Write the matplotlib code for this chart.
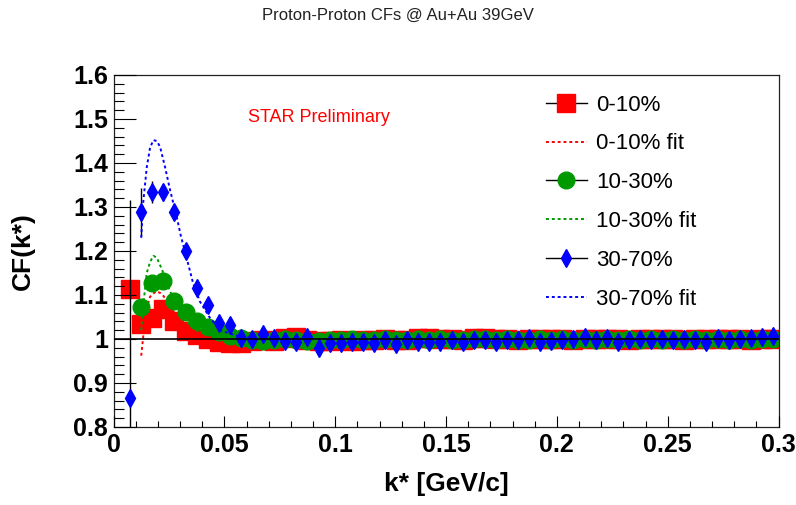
import numpy as np
import matplotlib
matplotlib.use('Agg')
import matplotlib.pyplot as plt
from matplotlib.lines import Line2D
from matplotlib.ticker import MultipleLocator

plt.rcParams['font.family'] = ['Liberation Sans', 'DejaVu Sans']

# bin centres (GeV/c)
k = [0.0075, 0.0125, 0.0175, 0.0225, 0.0275, 0.0325, 0.0375, 0.0425, 0.0475, 0.0525,
     0.0575, 0.0625, 0.0675, 0.0725, 0.0775, 0.0825, 0.0875, 0.0925, 0.0975, 0.1025,
     0.1075, 0.1125, 0.1175, 0.1225, 0.1275, 0.1325, 0.1375, 0.1425, 0.1475, 0.1525,
     0.1575, 0.1625, 0.1675, 0.1725, 0.1775, 0.1825, 0.1875, 0.1925, 0.1975, 0.2025,
     0.2075, 0.2125, 0.2175, 0.2225, 0.2275, 0.2325, 0.2375, 0.2425, 0.2475, 0.2525,
     0.2575, 0.2625, 0.2675, 0.2725, 0.2775, 0.2825, 0.2875, 0.2925, 0.2975]

cf_0_10 = [1.113, 1.034, 1.047, 1.068, 1.041, 1.018, 1.010, 1.000, 0.993, 0.990,
           0.990, 0.995, 0.997, 0.996, 1.002, 1.004, 0.998, 0.996, 0.995, 0.997,
           0.996, 0.998, 0.997, 0.999, 0.997, 0.998, 1.002, 1.003, 1.001, 0.999,
           0.998, 1.002, 1.002, 1.000, 0.999, 0.998, 1.000, 0.999, 1.001, 1.000,
           0.998, 0.999, 1.000, 0.999, 1.000, 0.998, 0.999, 1.000, 0.999, 1.001,
           0.998, 0.999, 1.000, 0.999, 1.000, 0.999, 0.998, 1.000, 1.000]

cf_10_30 = [np.nan, 1.073, 1.127, 1.132, 1.087, 1.062, 1.042, 1.027, 1.016, 1.007,
            1.002, 0.997, 0.996, 0.998, 0.999, 0.997, 0.996, 0.995, 0.997, 0.998,
            0.999, 0.997, 0.998, 0.999, 0.997, 0.998, 0.999, 0.998, 0.999, 0.997,
            0.998, 1.000, 0.999, 0.998, 0.999, 0.997, 0.998, 0.999, 0.998, 0.999,
            0.998, 0.999, 0.997, 0.999, 0.998, 0.999, 0.998, 0.999, 0.998, 0.999,
            0.998, 0.999, 0.998, 0.999, 0.998, 0.999, 0.998, 0.999, 0.999]

cf_30_70 = [0.865, 1.289, 1.333, 1.333, 1.289, 1.201, 1.115, 1.077, 1.036, 1.032,
            1.002, 1.000, 1.011, 1.002, 0.996, 0.994, 1.005, 0.980, 0.991, 0.991,
            0.994, 0.994, 0.990, 0.998, 0.988, 0.998, 0.994, 0.994, 0.994, 0.998,
            0.994, 0.998, 0.998, 0.994, 0.998, 0.998, 1.003, 0.993, 0.996, 0.998,
            1.000, 1.004, 0.998, 1.003, 0.994, 0.998, 1.000, 0.998, 1.000, 0.998,
            1.000, 0.998, 0.993, 1.003, 0.998, 1.000, 1.003, 1.005, 1.006]
# stat. errors of the first 30-70% bins (others hidden under markers)
err_30_70 = [0.45, 0.055, 0.025, 0.02, 0.015, 0.012, 0.01, 0.01, 0.008]

# fit curves
fit_k_0_10 = [0.0125, 0.0135, 0.015, 0.0165, 0.019, 0.021, 0.0225, 0.025, 0.028, 0.032, 0.037, 0.045, 0.06, 0.3]
fit_0_10 = [0.962, 1.01, 1.07, 1.096, 1.108, 1.105, 1.098, 1.08, 1.055, 1.03, 1.012, 1.002, 0.998, 1.0]
fit_k_10_30 = [0.0125, 0.0135, 0.015, 0.0165, 0.018, 0.0195, 0.021, 0.0225, 0.025, 0.028, 0.032, 0.037, 0.045, 0.06, 0.3]
fit_10_30 = [1.02, 1.08, 1.15, 1.175, 1.189, 1.185, 1.168, 1.15, 1.115, 1.08, 1.045, 1.02, 1.006, 1.0, 1.0]
fit_k_30_70 = [0.0125, 0.0134, 0.015, 0.0165, 0.018, 0.0195, 0.021, 0.0232, 0.0255, 0.0285, 0.0303,
               0.0332, 0.0359, 0.039, 0.0435, 0.048, 0.057, 0.07, 0.3]
fit_30_70 = [1.23, 1.31, 1.39, 1.435, 1.452, 1.45, 1.437, 1.392, 1.339, 1.278, 1.236,
             1.18, 1.127, 1.085, 1.048, 1.02, 1.005, 1.0, 1.0]

red = '#ff0000'
green = '#009a00'
blue = '#0000ff'

fig = plt.figure(figsize=(7.96, 5.05), dpi=100)
ax = fig.add_axes([113.5 / 796, 1 - 427 / 505, 665 / 796, 352 / 505])

dots = (0, (1.5, 1.5))
ax.plot(k, cf_0_10, ls='none', marker='s', ms=13, mfc=red, mec=red, zorder=2)
ax.plot(fit_k_0_10, fit_0_10, color=red, ls=dots, lw=1.4, zorder=2)
ax.plot(k, cf_10_30, ls='none', marker='o', ms=12, mfc=green, mec=green, zorder=2)
ax.plot(fit_k_10_30, fit_10_30, color=green, ls=dots, lw=1.4, zorder=2)
n = len(err_30_70)
ax.errorbar(k[:n], cf_30_70[:n], yerr=err_30_70, fmt='none', ecolor='black', elinewidth=1, zorder=2)
ax.plot(k, cf_30_70, ls='none', marker='d', ms=9, mfc=blue, mec=blue, zorder=2)
ax.plot(fit_k_30_70, fit_30_70, color=blue, ls=dots, lw=1.4, zorder=2)

ax.axhline(1.0, color='black', lw=1.2, zorder=3)

ax.set_xlim(0, 0.3)
ax.set_ylim(0.8, 1.6)
ax.set_axisbelow(False)
ax.xaxis.set_major_locator(MultipleLocator(0.05))
ax.xaxis.set_minor_locator(MultipleLocator(0.01))
ax.yaxis.set_major_locator(MultipleLocator(0.1))
ax.yaxis.set_minor_locator(MultipleLocator(0.02))
ax.set_xticks([0, 0.05, 0.1, 0.15, 0.2, 0.25, 0.3], ['0', '0.05', '0.1', '0.15', '0.2', '0.25', '0.3'])
ax.set_yticks([0.8, 0.9, 1.0, 1.1, 1.2, 1.3, 1.4, 1.5, 1.6], ['0.8', '0.9', '1', '1.1', '1.2', '1.3', '1.4', '1.5', '1.6'])
ax.tick_params(axis='x', which='major', direction='in', length=8, width=0.8, pad=4, labelsize=18)
ax.tick_params(axis='x', which='minor', direction='in', length=4, width=0.8)
ax.tick_params(axis='y', which='major', direction='in', length=16, width=0.8, pad=4, labelsize=18)
ax.tick_params(axis='y', which='minor', direction='in', length=7.5, width=0.8)
for lab in ax.get_xticklabels() + ax.get_yticklabels():
    lab.set_fontweight('bold')
for sp in ax.spines.values():
    sp.set_linewidth(0.9)
    sp.set_color('#222222')

ax.set_xlabel('k* [GeV/c]', fontsize=19, fontweight='bold')
ax.set_ylabel('CF(k*)', fontsize=19, fontweight='bold')
ax.xaxis.set_label_coords(0.5, -0.162)
ax.xaxis.label.set_verticalalignment('center')
ax.yaxis.set_label_coords(-0.137, 0.5)
ax.yaxis.label.set_verticalalignment('center')

ax.text(0.0607, 1.5045, 'STAR Preliminary', color=red, fontsize=13, ha='left', va='center')

fig.text(0.5, 1 - 15 / 505, 'Proton-Proton CFs @ Au+Au 39GeV', ha='center', va='center', fontsize=12, color='#222222')

handles = [
    Line2D([], [], color='black', lw=1, marker='s', ms=13, mfc=red, mec=red),
    Line2D([], [], color=red, ls=dots, lw=1.4),
    Line2D([], [], color='black', lw=1, marker='o', ms=12, mfc=green, mec=green),
    Line2D([], [], color=green, ls=dots, lw=1.4),
    Line2D([], [], color='black', lw=1, marker='d', ms=9, mfc=blue, mec=blue),
    Line2D([], [], color=blue, ls=dots, lw=1.4),
]
labels = ['0-10%', '0-10% fit', '10-30%', '10-30% fit', '30-70%', '30-70% fit']
ax.legend(handles, labels, loc='upper left', bbox_to_anchor=(0.65, 0.944), frameon=False,
          fontsize=16, numpoints=1, handlelength=1.85, handletextpad=0.4,
          labelspacing=0.8, borderpad=0, borderaxespad=0)

fig.savefig('out.png', dpi=100)
